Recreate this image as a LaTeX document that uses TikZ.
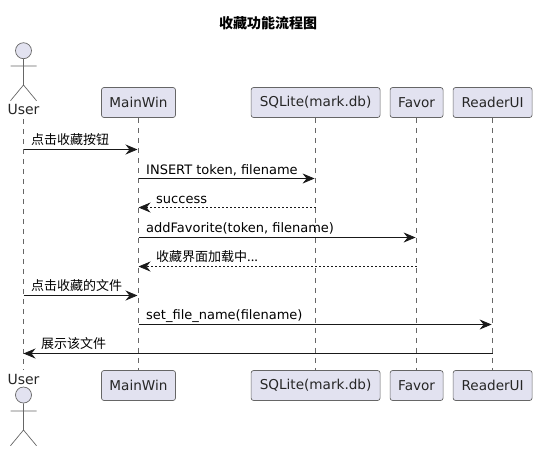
\documentclass[tikz,border=0pt]{standalone}
\usepackage{fontspec}
\setmainfont{DejaVu Sans}
\newfontfamily\cjk{Noto Sans CJK SC}
\usetikzlibrary{arrows.meta}
\definecolor{pbox}{HTML}{E2E2F0}
\definecolor{pline}{HTML}{666666}
\tikzset{
  x=1pt,y=-1pt,
  part/.style={draw=pline,fill=pbox,rounded corners=2.5pt,line width=.7pt,minimum height=30pt,inner xsep=0pt,inner ysep=0pt,font=\fontsize{13.6}{15}\selectfont,text=black!85},
  life/.style={draw=pline,line width=.6pt,dash pattern=on 5pt off 5pt},
  actorline/.style={draw=pline,line width=.7pt},
  actorhead/.style={circle,draw=pline,fill=pbox,line width=.7pt,minimum size=16pt,inner sep=0pt},
  actorlabel/.style={inner sep=0pt,font=\fontsize{14}{16}\selectfont,text=black!85,anchor=base},
  msg/.style={draw=black!90,line width=.8pt,-{Stealth[length=12pt,width=10pt,inset=4pt]},shorten >=1pt},
  msgback/.style={draw=black!90,line width=.8pt,-{Stealth[length=12pt,width=10pt,inset=4pt]}},
  ret/.style={draw=black!90,line width=.7pt,dash pattern=on 2pt off 2pt,-{Stealth[length=12pt,width=10pt,inset=4pt,line width=.7pt]}},
  lab/.style={inner sep=0pt,anchor=base west,font=\fontsize{13}{15}\selectfont,text=black},
  clab/.style={inner sep=0pt,anchor=base west,font=\fontsize{13}{15}\selectfont\cjk,text=black},
}
\begin{document}
\begin{tikzpicture}
\useasboundingbox (0,0) rectangle (537,451);
\node[inner sep=0pt,font=\fontsize{14}{16}\selectfont\cjk\bfseries] (title) at (268,23) {收藏功能流程图};
% participant boxes
\node[part,minimum width=74pt] (mT) at (138.5,102.5) {MainWin};
\node[part,minimum width=129pt] (sT) at (315.6,102.5) {SQLite(mark.db)};
\node[part,minimum width=53pt] (fT) at (416.6,102.5) {Favor};
\node[part,minimum width=79pt] (rT) at (492.6,102.5) {ReaderUI};
\node[part,minimum width=74pt] (mB) at (138.5,385.5) {MainWin};
\node[part,minimum width=129pt] (sB) at (315.6,385.5) {SQLite(mark.db)};
\node[part,minimum width=53pt] (fB) at (416.6,385.5) {Favor};
\node[part,minimum width=79pt] (rB) at (492.6,385.5) {ReaderUI};
% actors
\node[actorhead] (uhT) at (23.5,50.7) {};
\node[actorhead] (uhB) at (23.5,395) {};
\node[actorlabel] (uT) at (23.5,114.7) {User};
\node[actorlabel] (uB) at (23.5,384) {User};
\coordinate (ubT) at (23.5,85);
\coordinate (ubB) at (23.5,430);
\draw[actorline] (uhT.south) -- (ubT) -- (10.5,100.7) (ubT) -- (36.5,100.7) (10.5,66) -- (36.5,66);
\draw[actorline] (uhB.south) -- (ubB) -- (10.5,445.7) (ubB) -- (36.5,445.7) (10.5,411) -- (36.5,411);
% lifelines
\coordinate (uA) at (23.5,119);
\coordinate (uZ) at (23.5,370);
\draw[life] (uA) -- (uZ);
\draw[life] (mT) -- (mB);
\draw[life] (sT) -- (sB);
\draw[life] (fT) -- (fB);
\draw[life] (rT) -- (rB);
% rows
\coordinate (r1) at (0,149.5);
\coordinate (r2) at (0,178.5);
\coordinate (r3) at (0,207.5);
\coordinate (r4) at (0,237.5);
\coordinate (r5) at (0,266.5);
\coordinate (r6) at (0,295.5);
\coordinate (r7) at (0,324.5);
\coordinate (r8) at (0,353.5);
% messages
\draw[msg] (uA |- r1) -- (mT |- r1);
\draw[msg] (mT |- r2) -- (sT |- r2);
\draw[ret] (sT |- r3) -- (mT |- r3);
\draw[msg] (mT |- r4) -- (fT |- r4);
\draw[ret] (fT |- r5) -- (mT |- r5);
\draw[msg] (uA |- r6) -- (mT |- r6);
\draw[msg] (mT |- r7) -- (rT |- r7);
\draw[msgback] (rT |- r8) -- (uA |- r8);
% labels
\node[clab] (l1) at (31,144) {点击收藏按钮};
\node[lab] (l2) at (146,174.5) {INSERT token, filename};
\node[lab] (l3) at (156,203) {success};
\node[lab] (l4) at (146,232.5) {addFavorite(token, filename)};
\node[clab] (l5) at (156,261.5) {收藏界面加载中...};
\node[clab] (l6) at (31,290) {点击收藏的文件};
\node[lab] (l7) at (146,319) {set\_file\_name(filename)};
\node[clab] (l8) at (41,348.5) {展示该文件};
\end{tikzpicture}
\end{document}
